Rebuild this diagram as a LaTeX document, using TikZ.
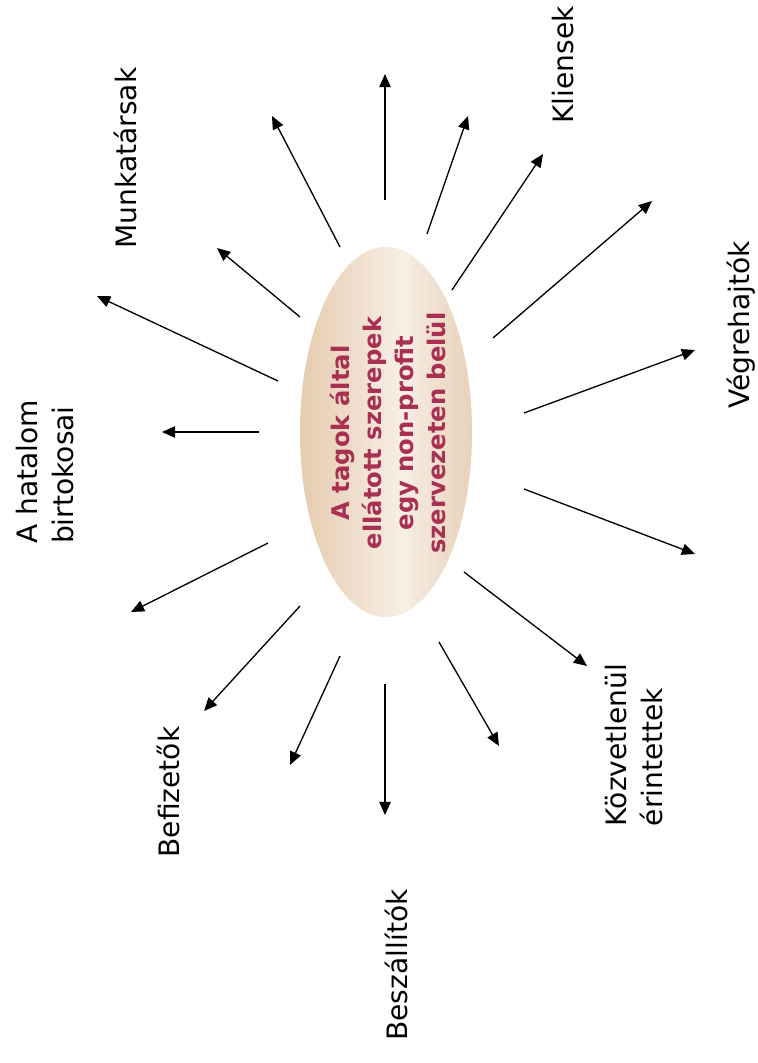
\documentclass[tikz,border=0pt]{standalone}
\usepackage{fontspec}
\setmainfont{DejaVu Sans}
\usetikzlibrary{arrows.meta}
\definecolor{ctan}{RGB}{230,204,176}
\definecolor{clight}{RGB}{247,238,229}
\definecolor{cszov}{RGB}{168,48,82}
\tikzset{
  % labels round the ellipse are set upright (reading bottom to top)
  szerep/.style={rotate=90,align=left,inner sep=0pt,font=\fontsize{16}{20}\selectfont},
  kozepszov/.style={rotate=90,align=center,text=cszov,font=\bfseries\fontsize{13.8}{18.3}\selectfont},
  arr/.style={-{Triangle[length=7.5pt,width=6.5pt]},line width=0.75pt}
}
\begin{document}
\begin{tikzpicture}[x=0.02cm,y=-0.02cm]
  \useasboundingbox (0,0) rectangle (758,1063);
  \coordinate (tag) at (386,432);
  % ellipse with a left-to-right shade, drawn as thin strips
  \begin{scope}
    \clip (tag) ellipse (86 and 185);
    \foreach \k in {0,...,43}{
      \pgfmathsetmacro\xx{300+4*\k}
      \pgfmathtruncatemacro\pc{\xx<400 ? 100-(\xx-300) : (\xx-400)*1.2}
      \fill[ctan!\pc!clight] (\xx,240) rectangle (\xx+4.6,625);
    }
  \end{scope}
  \node[kozepszov] (tagszov) at (388,433) {A tagok által\\ellátott szerepek\\egy non-profit\\szervezeten belül};
  % arrows out of the ellipse
  \foreach \sx/\sy/\tx/\ty [count=\i] in {340/247/272/116, 300/317/217/248, 278/381/97/296,
      385/200/385/74, 427/234/468/116, 452/290/543/154, 493/338/652/201, 524/413/695/350,
      524/489/695/554, 464/572/587/666, 439/642/499/746, 385/684/385/815, 340/656/290/765,
      300/606/204/711, 268/543/131/612, 259/432/162/432}{
    \coordinate (s\i) at (\sx,\sy);
    \coordinate (t\i) at (\tx,\ty);
    \draw[arr] (s\i) -- (t\i);
  }
  \node[szerep] (munka) at (125,158) {Munkatársak};
  \node[szerep] (kliens) at (563,65) {Kliensek};
  \node[szerep] (vegre) at (741,325) {Végrehajtók};
  \node[szerep] (hatalom) at (45,472) {A hatalom\\birtokosai};
  \node[szerep] (befiz) at (168,792) {Befizetők};
  \node[szerep] (beszall) at (396,965) {Beszállítók};
  \node[szerep] (kozvet) at (634,745) {Közvetlenül\\érintettek};
\end{tikzpicture}
\end{document}
